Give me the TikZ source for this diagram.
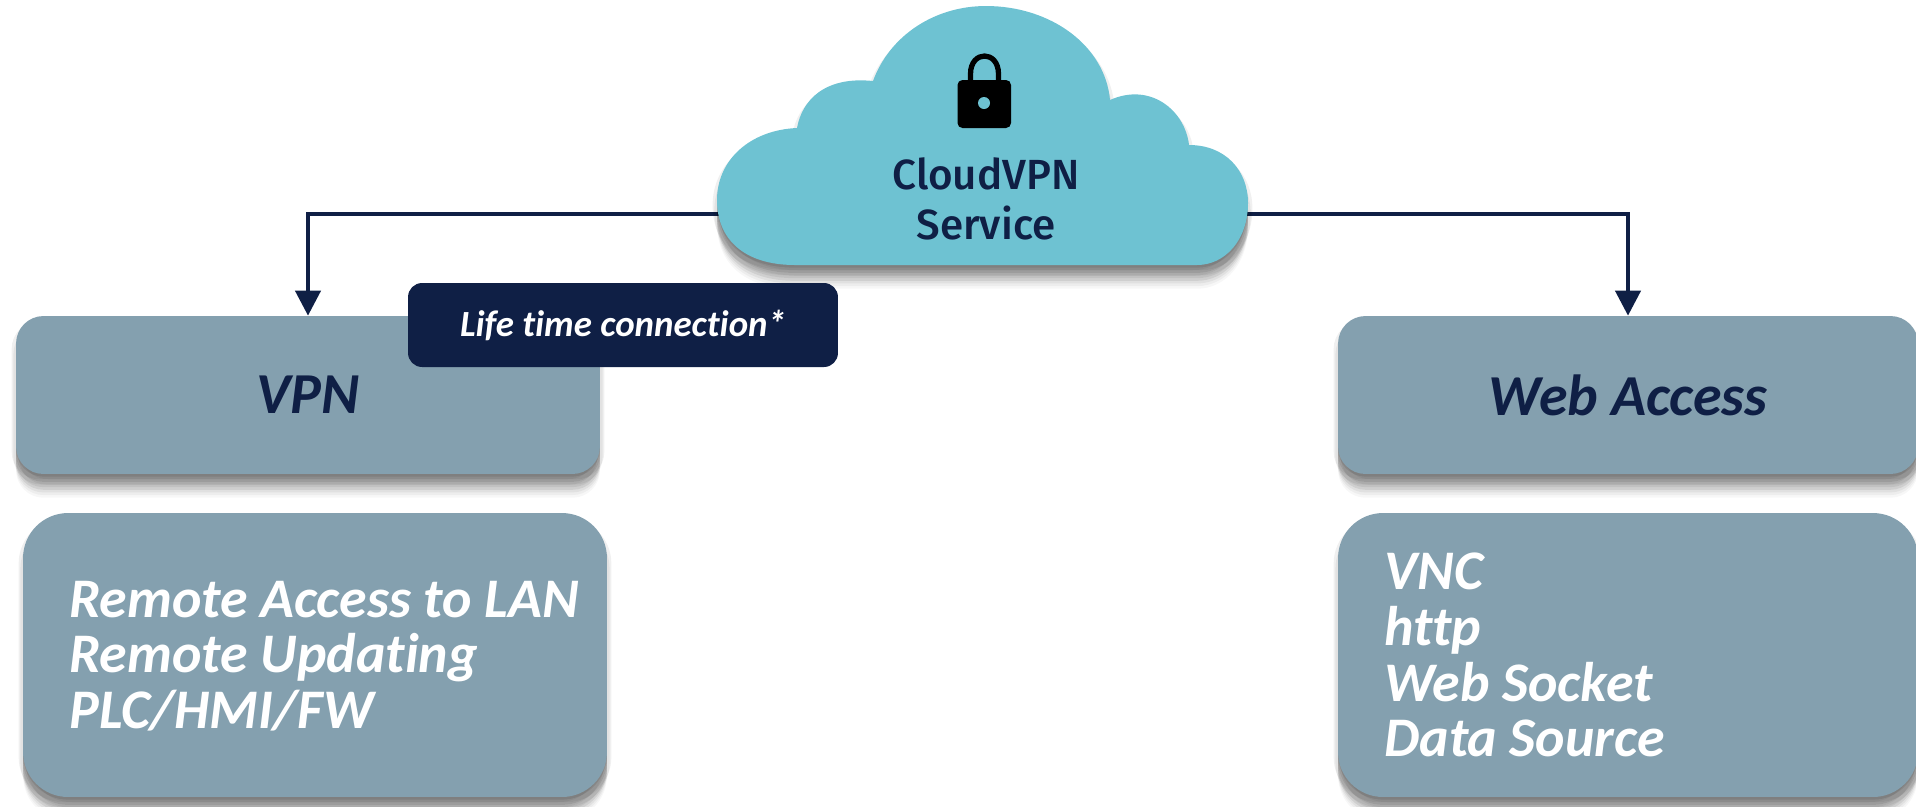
\documentclass[tikz,border=0pt]{standalone}
\usepackage{fontspec}
\setmainfont{Carlito}[Ligatures={NoCommon,NoRequired,NoContextual}]
\newfontfamily\cloudfont{Fira Sans Medium}
\usepackage{xcolor}
\usetikzlibrary{shadows,arrows.meta}

\definecolor{boxgray}{HTML}{84A0AF}
\definecolor{cloudblue}{HTML}{6EC2D2}
\definecolor{navy}{HTML}{0F1F45}

\tikzset{
  softshadow/.style={
    drop shadow={shadow xshift=0pt,shadow yshift=-1.5pt,opacity=.09,fill=black},
    drop shadow={shadow xshift=-2.5pt,shadow yshift=-3pt,opacity=.06,fill=black},
    drop shadow={shadow xshift=2.5pt,shadow yshift=-3pt,opacity=.06,fill=black},
    drop shadow={shadow xshift=0pt,shadow yshift=-4.5pt,opacity=.08,fill=black},
    drop shadow={shadow xshift=-1.5pt,shadow yshift=-6pt,opacity=.06,fill=black},
    drop shadow={shadow xshift=1.5pt,shadow yshift=-6pt,opacity=.06,fill=black},
    drop shadow={shadow xshift=0pt,shadow yshift=-7.5pt,opacity=.07,fill=black},
    drop shadow={shadow xshift=0pt,shadow yshift=-9pt,opacity=.07,fill=black},
    drop shadow={shadow xshift=0pt,shadow yshift=-10.5pt,opacity=.06,fill=black},
    drop shadow={shadow xshift=0pt,shadow yshift=-12pt,opacity=.04,fill=black},
    drop shadow={shadow xshift=0pt,shadow yshift=-13.5pt,opacity=.03,fill=black}},
  headbox/.style={rectangle,rounded corners=0.55cm,fill=boxgray,softshadow,
    minimum width=11.68cm,minimum height=3.16cm,text=navy,
    font=\fontsize{33}{38}\selectfont\bfseries\itshape},
  listbox/.style={rectangle,rounded corners=0.9cm,fill=boxgray,softshadow,
    minimum width=11.68cm,minimum height=5.68cm},
  listtext/.style={anchor=west,inner sep=0pt,align=left,text=white,
    font=\fontsize{31.8}{31.75}\selectfont\bfseries\itshape},
  tagbox/.style={rectangle,rounded corners=0.28cm,fill=navy,text=white,
    minimum width=8.6cm,minimum height=1.68cm,font=\fontsize{21}{24}\selectfont\bfseries\itshape},
  flow/.style={draw=navy,line width=2.4pt,-{Triangle[length=0.5cm,width=0.5cm]}},
}

\begin{document}
\begin{tikzpicture}[x=0.02cm,y=-0.02cm]
\useasboundingbox (0,0) rectangle (1916,806);

% Boxes
\node[headbox] (vpn) at (308,395) {VPN};
\node[headbox,minimum width=11.6cm] (web) at (1628,395) {Web Access};
\node[listbox] (vpnlist) at (315,655) {};
\node[listbox,minimum width=11.6cm] (weblist) at (1628,655) {};

% List texts
\node[listtext] (vpnitems) at (69,656) {Remote Access to LAN\\Remote Updating\\PLC/HMI/FW};
\node[listtext] (webitems) at (1384,655) {VNC\\http\\Web Socket\\Data Source};

% Connectors
\coordinate (cloudleft) at (720,214);
\coordinate (cloudright) at (1245,214);
\draw[flow] (cloudleft) -| (vpn.north);
\draw[flow] (cloudright) -| (web.north);

% Cloud
\fill[cloudblue,softshadow] (795,265)
  .. controls (745,265) and (717,240) .. (717,200)
  .. controls (717,160) and (750,130) .. (797,128)
  .. controls (802,100) and (825,76) .. (873,81)
  .. controls (890,35) and (935,6) .. (986,6)
  .. controls (1050,6) and (1105,45) .. (1110,100)
  .. controls (1150,82) and (1185,110) .. (1189,145)
  .. controls (1225,145) and (1248,170) .. (1248,203)
  .. controls (1248,240) and (1225,265) .. (1197,265)
  -- cycle;

% Lock
\draw[black,line width=3pt] (970.5,84) -- (970.5,74)
  .. controls (970.5,50) and (998.5,50) .. (998.5,74) -- (998.5,84);
\fill[black,rounded corners=0.1cm] (957.5,80) rectangle (1011,128);
\fill[cloudblue] (984,103) circle (6);

% Cloud text
\node[text=navy,align=center,font=\cloudfont\fontsize{24}{28.3}\selectfont] (service) at (986,199) {CloudVPN\\Service};

% Tag
\node[tagbox] (lifetime) at (623,325) {Life time connection*};
\end{tikzpicture}
\end{document}
